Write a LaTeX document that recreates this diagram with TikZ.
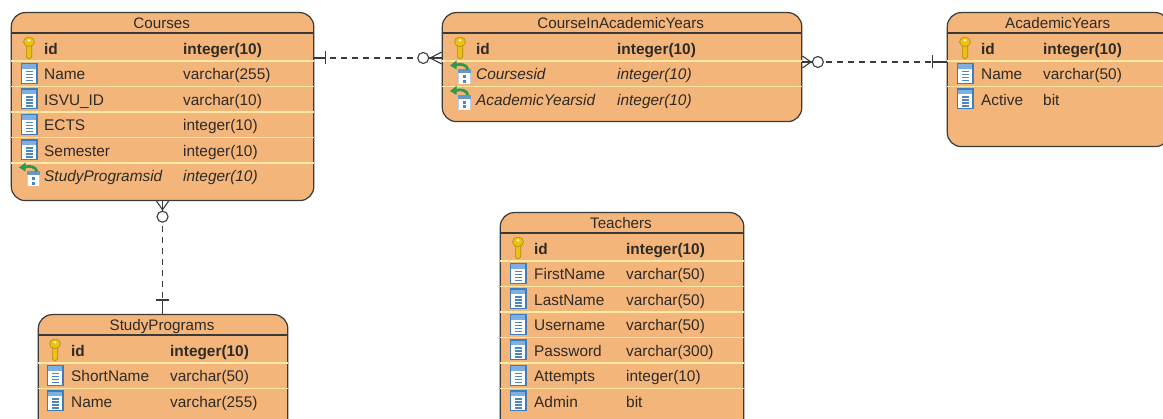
\documentclass[tikz,border=0pt]{standalone}
\usepackage{fontspec}
\setmainfont{Liberation Sans}
\definecolor{boxfill}{HTML}{F4B57A}
\definecolor{boxedge}{HTML}{3A3A3A}
\definecolor{sepcol}{HTML}{FFEBA6}
\definecolor{txtcol}{HTML}{2E2A26}
\definecolor{keygold}{HTML}{EBC20F}
\definecolor{keyedge}{HTML}{B08A10}
\definecolor{colblue}{HTML}{3F7DBA}
\definecolor{coltop}{HTML}{7FAEE0}
\definecolor{coldark}{HTML}{4C86BE}
\definecolor{fkgreen}{HTML}{2E9A4A}
\tikzset{
  tbl/.style={draw=boxedge,fill=boxfill,line width=1.2pt,rounded corners=14pt,anchor=north west,inner sep=0pt},
  titletext/.style={font=\fontsize{15.2}{18}\selectfont,text=txtcol,anchor=base,inner sep=0pt},
  rowtext/.style={font=\fontsize{15.4}{18}\selectfont,text=txtcol,anchor=base west,inner sep=0pt},
  pkrow/.style={font=\fontsize{15.4}{18}\selectfont\bfseries},
  plainrow/.style={},
  fkrow/.style={font=\fontsize{15.4}{18}\selectfont\itshape},
  headline/.style={draw=boxedge,line width=1.2pt},
  sepline/.style={draw=sepcol,line width=1.5pt},
  relline/.style={draw=boxedge,line width=1.1pt,dash pattern=on 6pt off 5pt},
  relmark/.style={draw=boxedge,line width=1.1pt},
  keyicon/.pic={
    \draw[fill=keygold,draw=keyedge,line width=.6pt] (-2.7,-3) -- (-2.7,9) -- (0,11) -- (2.7,9) -- (2.7,-3) -- cycle;
    \draw[fill=keygold,draw=keyedge,line width=.6pt] (0,-6.2) ellipse (5.5 and 4.8);
    \fill[white!85!keygold] (0,-7.6) ellipse (1.7 and 1.2);
  },
  colicon/.pic={
    \fill[colblue] (-8.5,-10.5) rectangle (8.5,10.5);
    \fill[coltop] (-7,-9.3) rectangle (7,-4.5);
    \fill[white] (-7,-4.5) rectangle (7,9.3);
    \fill[coldark] (-3.5,-2.5) rectangle (3.5,-1);
    \fill[coldark] (-3.5,.5) rectangle (3.5,2);
    \fill[coldark] (-3.5,3.5) rectangle (3.5,5);
    \fill[coldark] (-3.5,6.5) rectangle (3.5,8);
  },
  fkicon/.pic={
    \fill[white] (-2,-4) rectangle (11,11);
    \fill[colblue!80!white] (-2,-4) rectangle (11,0);
    \fill[coltop!55!white] (-2,0) rectangle (-.8,11);
    \fill[coltop!55!white] (9.8,0) rectangle (11,11);
    \fill[coldark] (3,2) rectangle (6,5);
    \fill[coldark] (3,6.5) rectangle (6,9.5);
    \draw[fkgreen,line width=2.8pt] (8,-4) .. controls (6.5,-9) and (1,-10) .. (-4,-8.5);
    \fill[fkgreen] (-10,-8) -- (-3.5,-13) -- (-3.5,-4) -- cycle;
  },
  crowfoot/.pic={
    \draw[relmark] (0,-6) -- (#1-7,0) -- (0,6);
    \draw[relmark] (0,0) -- (#1-5.5,0);
    \draw[relmark,fill=white] (#1,0) circle (5.5);
  },
  barmark/.pic={
    \draw[relmark] (#1,-6.5) -- (#1,6.5);
    \draw[relmark] (0,0) -- (#1,0);
  }
}
\newcommand\tbltitle[3]{\path (#1.north west) ++(#2,16.7) node[titletext] (#1-title) {#3};}
\newcommand\tblhead[2]{\draw[headline] (#1.north west) ++(0,21) coordinate (#1-hl) -- (#1.east |- #1-hl);}
\newcommand\tblsep[2]{\pgfmathsetmacro\ry{49+25.5*#2}\path (#1.north west) ++(.7,\ry) coordinate (#1-s#2); \draw[sepline] (#1-s#2) -- ([xshift=-.7pt]#1.east |- #1-s#2);}
\newcommand\rowitem[6]{%
  \pgfmathsetmacro\ry{36+25.5*#2}%
  \path (#1.north west) ++(\ix,\ry) pic {#3};
  \path (#1.north west) ++(\nx,\ry+6.1) node[rowtext,#4] (#1-#2-name) {#5};
  \path (#1.north west) ++(\tx,\ry+6.1) node[rowtext,#4] (#1-#2-type) {#6};
}
\begin{document}
\begin{tikzpicture}[x=1pt,y=-1pt]
\clip (0,0) rectangle (1163,419);
% Courses
\node[tbl,minimum width=302.5pt,minimum height=188pt] (courses) at (10.7,12) {};
\tbltitle{courses}{151}{Courses}\tblhead{courses}{}
\foreach \n in {0,...,4}{\tblsep{courses}{\n}}
\def\ix{18.3}\def\nx{33.3}\def\tx{172.3}
\rowitem{courses}{0}{keyicon}{pkrow}{id}{integer(10)}
\rowitem{courses}{1}{colicon}{plainrow}{Name}{varchar(255)}
\rowitem{courses}{2}{colicon}{plainrow}{ISVU\_ID}{varchar(10)}
\rowitem{courses}{3}{colicon}{plainrow}{ECTS}{integer(10)}
\rowitem{courses}{4}{colicon}{plainrow}{Semester}{integer(10)}
\rowitem{courses}{5}{fkicon}{fkrow}{StudyProgramsid}{integer(10)}
% CourseInAcademicYears
\node[tbl,minimum width=359.5pt,minimum height=109pt] (ciay) at (441.7,12) {};
\tbltitle{ciay}{179}{CourseInAcademicYears}\tblhead{ciay}{}
\foreach \n in {0,1}{\tblsep{ciay}{\n}}
\def\ix{18.3}\def\nx{34.3}\def\tx{175.3}
\rowitem{ciay}{0}{keyicon}{pkrow}{id}{integer(10)}
\rowitem{ciay}{1}{fkicon}{fkrow}{Coursesid}{integer(10)}
\rowitem{ciay}{2}{fkicon}{fkrow}{AcademicYearsid}{integer(10)}
% AcademicYears
\node[tbl,minimum width=222pt,minimum height=134pt] (ay) at (946.7,12) {};
\tbltitle{ay}{111}{AcademicYears}\tblhead{ay}{}
\foreach \n in {0,1}{\tblsep{ay}{\n}}
\def\ix{18.3}\def\nx{34.3}\def\tx{96.3}
\rowitem{ay}{0}{keyicon}{pkrow}{id}{integer(10)}
\rowitem{ay}{1}{colicon}{plainrow}{Name}{varchar(50)}
\rowitem{ay}{2}{colicon}{plainrow}{Active}{bit}
% StudyPrograms
\node[tbl,minimum width=249.5pt,minimum height=120pt] (sp) at (37.7,314) {};
\tbltitle{sp}{124.3}{StudyPrograms}\tblhead{sp}{}
\foreach \n in {0,1}{\tblsep{sp}{\n}}
\def\ix{17.3}\def\nx{33.3}\def\tx{132.3}
\rowitem{sp}{0}{keyicon}{pkrow}{id}{integer(10)}
\rowitem{sp}{1}{colicon}{plainrow}{ShortName}{varchar(50)}
\rowitem{sp}{2}{colicon}{plainrow}{Name}{varchar(255)}
% Teachers
\node[tbl,minimum width=243.5pt,minimum height=220pt] (teachers) at (499.7,212) {};
\tbltitle{teachers}{121.3}{Teachers}\tblhead{teachers}{}
\foreach \n in {0,...,5}{\tblsep{teachers}{\n}}
\def\ix{18.3}\def\nx{34.3}\def\tx{126.3}
\rowitem{teachers}{0}{keyicon}{pkrow}{id}{integer(10)}
\rowitem{teachers}{1}{colicon}{plainrow}{FirstName}{varchar(50)}
\rowitem{teachers}{2}{colicon}{plainrow}{LastName}{varchar(50)}
\rowitem{teachers}{3}{colicon}{plainrow}{Username}{varchar(50)}
\rowitem{teachers}{4}{colicon}{plainrow}{Password}{varchar(300)}
\rowitem{teachers}{5}{colicon}{plainrow}{Attempts}{integer(10)}
\rowitem{teachers}{6}{colicon}{plainrow}{Admin}{bit}
% relationships
\coordinate (r1a) at ([yshift=-46pt]courses.north east);
\coordinate (r1b) at ([yshift=-46pt]ciay.north west);
\coordinate (r2a) at ([yshift=-50pt]ciay.north east);
\coordinate (r2b) at ([yshift=-50pt]ay.north west);
\coordinate (r3a) at (courses.south);
\coordinate (r3b) at (courses.south |- sp.north);
\draw[relline,dash phase=6pt] (r1a) -- (r1b);
\draw[relline,dash phase=6pt] (r2b) -- (r2a);
\draw[relline,dash phase=6pt] (r3b) -- (r3a);
\path (r1a) pic {barmark=11};
\path (r1b) pic[rotate=180] {crowfoot=18.5};
\path (r2a) pic {crowfoot=15.5};
\path (r2b) pic[rotate=180] {barmark=14};
\path (r3a) pic[rotate=-90] {crowfoot=15.5};
\path (r3b) pic[rotate=90] {barmark=14};
\end{tikzpicture}
\end{document}
